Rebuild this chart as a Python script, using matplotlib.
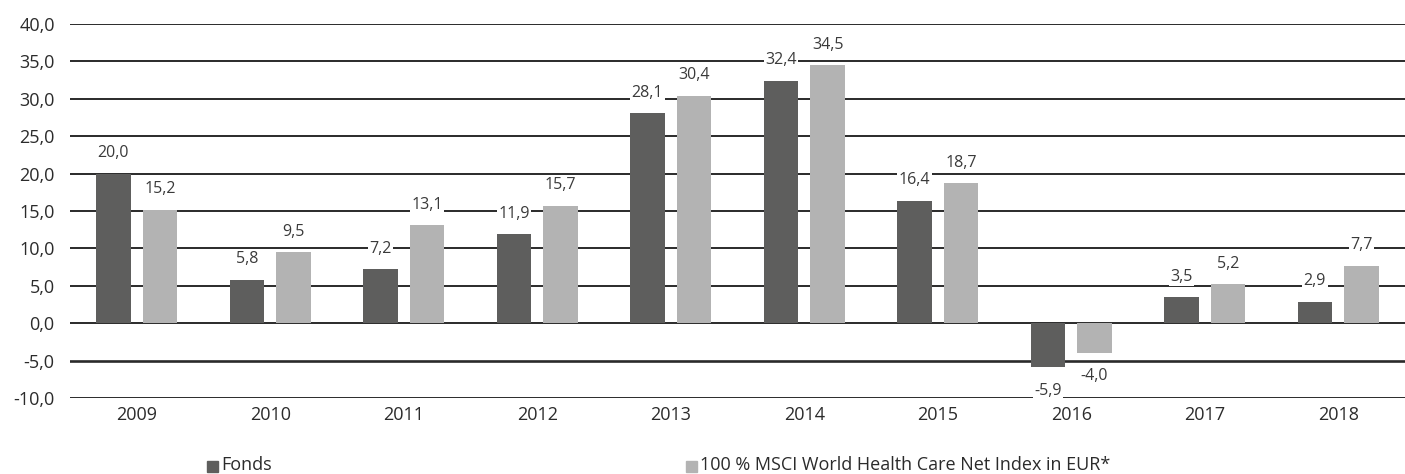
import matplotlib.pyplot as plt
import numpy as np

# Données
years = ['2009', '2010', '2011', '2012', '2013', '2014', '2015', '2016', '2017', '2018']
fonds = [20.0, 5.8, 7.2, 11.9, 28.1, 32.4, 16.4, -5.9, 3.5, 2.9]
index_msci = [15.2, 9.5, 13.1, 15.7, 30.4, 34.5, 18.7, -4.0, 5.2, 7.7]
y_ticks = [-10, -5, 0, 5, 10, 15, 20, 25, 30, 35, 40]

label_fonds = 'Fonds'
label_index = '100 % MSCI World Health Care Net Index in EUR*'

c_fonds = '#5e5e5d'
c_index = '#b3b3b3'
txt = '#2b2b2b'

plt.rcParams['font.family'] = ['Open Sans', 'DejaVu Sans']

fig = plt.figure(figsize=(14.05, 4.74), dpi=100)
ax = fig.add_axes([70 / 1405, 1 - 398 / 474, 1335 / 1405, 374 / 474])

x = np.arange(len(years))
w = 0.26
off = 0.175

ax.bar(x - off, fonds, w, color=c_fonds, zorder=3)
ax.bar(x + off, index_msci, w, color=c_index, zorder=3)

# Grille horizontale
for t in y_ticks:
    ax.axhline(t, color='#2a2a2a', linewidth=1.4 if t != -5 else 1.9, zorder=1)

def fmt(v):
    return f'{v:.1f}'.replace('.', ',')

for xs, vals in [(x - off, fonds), (x + off, index_msci)]:
    for xi, v in zip(xs, vals):
        if v >= 0:
            ax.annotate(fmt(v), (xi, v), xytext=(0, 9), textcoords='offset points',
                        ha='center', va='bottom', fontsize=11.5, color='#3a3a3a', zorder=4,
                        bbox=dict(facecolor='white', edgecolor='none', pad=1))
        else:
            ax.annotate(fmt(v), (xi, v), xytext=(0, -11), textcoords='offset points',
                        ha='center', va='top', fontsize=11.5, color='#3a3a3a', zorder=4,
                        bbox=dict(facecolor='white', edgecolor='none', pad=1))

ax.set_xlim(-0.5, len(years) - 0.5)
ax.set_ylim(-10, 40)
ax.set_yticks(y_ticks)
ax.set_yticklabels([fmt(float(t)) for t in y_ticks], fontsize=13, color=txt)
ax.set_xticks(x)
ax.set_xticklabels(years, fontsize=13, color=txt)
ax.tick_params(length=0, axis='y', pad=11)
ax.tick_params(length=0, axis='x', pad=6)
for s in ax.spines.values():
    s.set_visible(False)

# Légende
fig.patches.append(plt.Rectangle((207 / 1405, 1 - 472 / 474), 11 / 1405, 11 / 474,
                                 transform=fig.transFigure, color=c_fonds))
fig.text(221 / 1405, 1 - 465 / 474, label_fonds, fontsize=13, color=txt, va='center')
fig.patches.append(plt.Rectangle((686 / 1405, 1 - 472 / 474), 11 / 1405, 11 / 474,
                                 transform=fig.transFigure, color=c_index))
fig.text(700 / 1405, 1 - 465 / 474, label_index, fontsize=13, color=txt, va='center')

plt.savefig('out.png', dpi=100)
